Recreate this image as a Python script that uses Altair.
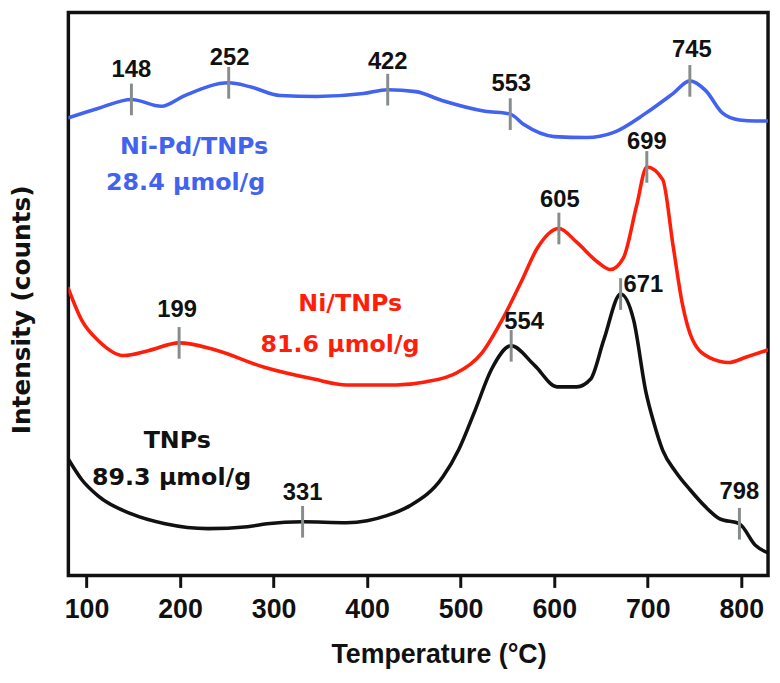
import altair as alt
import pandas as pd

# ---- data (temperature in deg C, intensity in arbitrary units) ----
pdtnp_T = [80, 113, 148, 180, 205, 252, 275, 307, 346, 396, 422, 452, 480, 526, 553,
           568, 600, 635, 663, 698, 727, 745, 762, 780, 798, 815, 829]
pdtnp_I = [468, 478, 487, 480, 491, 504, 500, 491, 490, 493, 497, 495, 486, 475, 472,
           461, 449, 448, 453, 473, 493, 506, 496, 473, 466, 465, 465]

nitnp_T = [80, 95, 113, 140, 166, 199, 237, 290, 343, 378, 431, 462, 497, 523, 544,
           565, 582, 605, 624, 646, 660, 674, 688, 699, 716, 727, 737, 748, 766, 787, 804, 829]
nitnp_I = [295, 261, 240, 225, 230, 238, 231, 213, 201, 195, 195, 198, 208, 228, 261,
           301, 335, 355, 341, 321, 313, 325, 378, 418, 405, 338, 278, 241, 223, 218, 223, 231]

tnp_T = [80, 95, 113, 148, 184, 230, 272, 293, 331, 378, 400, 420, 445, 481, 498,
         515, 533, 554, 579, 603, 624, 639, 653, 671, 685, 698, 706, 716, 730, 745, 761,
         777, 798, 815, 829]
tnp_I = [120, 98, 81, 63, 53, 48, 50, 53, 55, 54, 56, 61, 71, 101, 129,
         168, 211, 235, 215, 193, 193, 201, 241, 288, 261, 188, 158, 128, 106, 88, 71,
         58, 53, 31, 23]

series_names = ["Ni-Pd/TNPs", "Ni/TNPs", "TNPs"]
series_colors = ["#4262f0", "#ff1e0a", "#111111"]

peak_labels = ["148", "252", "422", "553", "745", "199", "605", "699", "331", "554", "671", "798"]
peak_T = [148, 252, 422, 553, 745, 199, 605, 699, 331, 554, 671, 798]
peak_I = [487, 504, 497, 472, 506, 238, 355, 418, 55, 235, 288, 53]

note_lines = ["Ni-Pd/TNPs", "28.4 μmol/g", "Ni/TNPs", "81.6 μmol/g", "TNPs", "89.3 μmol/g"]
note_series = ["Ni-Pd/TNPs", "Ni-Pd/TNPs", "Ni/TNPs", "Ni/TNPs", "TNPs", "TNPs"]
note_T = [215, 206, 382, 371, 197, 191]
note_I = [438, 401, 278, 236, 138, 100]

# ---- layout tweaks for peak labels (pixels: right, down) ----
LABEL_NUDGE = {"148": (0, -23), "252": (1, -18), "422": (0, -21), "553": (1, -23),
               "745": (2, -24), "199": (-2, -26), "605": (1, -22), "699": (0, -18),
               "331": (0, -22), "554": (13, -17), "671": (3, -2), "798": (0, -25)}

W, H = 707, 569
XDOM = [80.6, 828.6]
YDOM = [0, 576]
PX_X = (XDOM[1] - XDOM[0]) / W   # data units per pixel
PX_Y = (YDOM[1] - YDOM[0]) / H

curves = pd.concat([
    pd.DataFrame({"T": pdtnp_T, "I": pdtnp_I, "s": series_names[0]}),
    pd.DataFrame({"T": nitnp_T, "I": nitnp_I, "s": series_names[1]}),
    pd.DataFrame({"T": tnp_T, "I": tnp_I, "s": series_names[2]}),
])
peaks = pd.DataFrame({"label": peak_labels, "T": peak_T, "I": peak_I})
peaks["lx"] = [t + LABEL_NUDGE[l][0] * PX_X for l, t in zip(peak_labels, peak_T)]
peaks["ly"] = [v - LABEL_NUDGE[l][1] * PX_Y for l, v in zip(peak_labels, peak_I)]
peaks["lo"] = peaks["I"] - 16 * PX_Y
peaks["hi"] = peaks["I"] + 16 * PX_Y
notes = pd.DataFrame({"text": note_lines, "s": note_series, "T": note_T, "I": note_I})

FONT = "Liberation Sans"
WIDE = "DejaVu Sans"
xscale = alt.Scale(domain=XDOM, nice=False, zero=False)
yscale = alt.Scale(domain=YDOM, nice=False, zero=False)
color = alt.Color("s:N", scale=alt.Scale(domain=series_names, range=series_colors), legend=None)

x_enc = alt.X("T:Q", scale=xscale,
              axis=alt.Axis(values=[100, 200, 300, 400, 500, 600, 700, 800], domain=False,
                            grid=False, tickColor="#111", tickWidth=3, tickSize=12,
                            labelFont=FONT, labelFontWeight="bold", labelFontSize=27,
                            labelColor="#111", labelPadding=9,
                            title="Temperature (°C)", titleFont=FONT, titleFontSize=27,
                            titleFontWeight="bold", titleColor="#111",
                            titleX=374, titleY=80, titleBaseline="middle", titleAlign="center"))
y_enc = alt.Y("I:Q", scale=yscale,
              axis=alt.Axis(labels=False, ticks=False, domain=False, grid=False,
                            title="Intensity (counts)", titleFont=WIDE, titleFontSize=25,
                            titleFontWeight="bold", titleColor="#111",
                            titleX=-47, titleY=300, titleAngle=-90,
                            titleBaseline="middle", titleAlign="center"))

lines = alt.Chart(curves).mark_line(interpolate="monotone", strokeWidth=3.6, clip=True).encode(
    x=x_enc, y=y_enc, color=color, detail="s:N")

ticks = alt.Chart(peaks).mark_rule(color="#878d8d", strokeWidth=3).encode(
    x=alt.X("T:Q", scale=xscale), y=alt.Y("lo:Q", scale=yscale), y2="hi:Q")

ptext_c = alt.Chart(peaks).transform_filter("datum.label != '671'").mark_text(
    font=FONT, fontWeight="bold", fontSize=24, color="#111", baseline="alphabetic", align="center"
).encode(x=alt.X("lx:Q", scale=xscale), y=alt.Y("ly:Q", scale=yscale), text="label:N")

ptext_l = alt.Chart(peaks).transform_filter("datum.label == '671'").mark_text(
    font=FONT, fontWeight="bold", fontSize=24, color="#111", baseline="alphabetic", align="left"
).encode(x=alt.X("lx:Q", scale=xscale), y=alt.Y("ly:Q", scale=yscale), text="label:N")

ntext = alt.Chart(notes).mark_text(
    font=WIDE, fontWeight="bold", fontSize=24, baseline="middle", align="center"
).encode(x=alt.X("T:Q", scale=xscale), y=alt.Y("I:Q", scale=yscale), text="text:N", color=color)

chart = alt.layer(lines, ticks, ptext_c, ptext_l, ntext).properties(
    width=W, height=H,
    autosize=alt.AutoSizeParams(type="none"),
    padding={"left": 61, "top": 1, "right": 4, "bottom": 97},
).configure_view(stroke="#111", strokeWidth=3.5)

chart.save("out.html", embed_options={"renderer": "svg", "actions": False})
